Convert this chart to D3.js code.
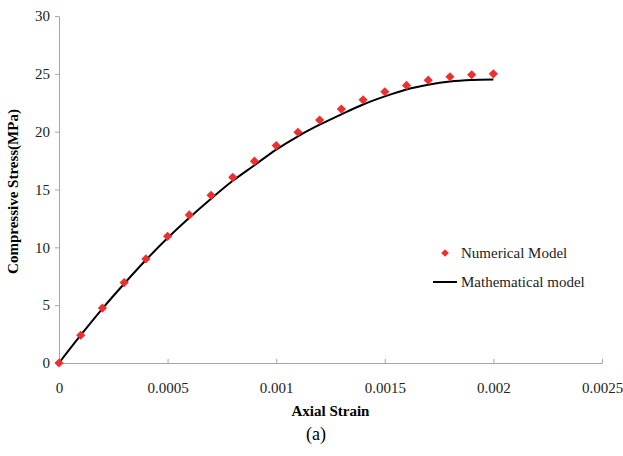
<!DOCTYPE html>
<html>
<head>
<meta charset="utf-8">
<script src="https://cdn.jsdelivr.net/npm/d3@7"></script>
<style>
  body { margin: 0; background: #fff; }
  svg { display: block; font-family: "Liberation Serif", "Times New Roman", serif; }
  .axis path, .axis line { stroke: #a6a6a6; }
  .axis text { font-size: 15px; fill: #222; font-family: "Liberation Serif", serif; }
</style>
</head>
<body>
<svg id="chart" width="623" height="456"></svg>
<script>
const strain = [0, 0.0001, 0.0002, 0.0003, 0.0004, 0.0005, 0.0006, 0.0007, 0.0008, 0.0009, 0.001,
  0.0011, 0.0012, 0.0013, 0.0014, 0.0015, 0.0016, 0.0017, 0.0018, 0.0019, 0.002];
const numerical = [0, 2.4, 4.75, 6.95, 9.0, 10.95, 12.8, 14.5, 16.05, 17.45, 18.8,
  19.95, 21.0, 21.95, 22.75, 23.45, 24.0, 24.45, 24.75, 24.92, 25.0];
const mathematical = [0, 2.4, 4.7, 6.85, 8.9, 10.8, 12.55, 14.2, 15.75, 17.1, 18.45,
  19.6, 20.6, 21.5, 22.35, 23.05, 23.65, 24.05, 24.33, 24.46, 24.5];
const xTicks = [0, 0.0005, 0.001, 0.0015, 0.002, 0.0025];
const yTicks = [0, 5, 10, 15, 20, 25, 30];

const svg = d3.select('#chart'),
  margin = { top: 16, right: 21, bottom: 93, left: 59 };
const inner = {
  width: 623 - margin.left - margin.right,
  height: 456 - margin.top - margin.bottom
};

const g = svg.append('g')
  .attr('transform', `translate(${margin.left},${margin.top})`);

const x = d3.scaleLinear().domain([0, 0.0025]).range([0, inner.width]),
  y = d3.scaleLinear().domain([0, 30]).range([inner.height, 0]);

g.append('g')
  .attr('class', 'axis axis--x')
  .attr('transform', `translate(0,${inner.height})`)
  .call(d3.axisBottom(x).tickValues(xTicks).tickFormat(d => d === 0 ? '0' : String(+d.toFixed(4)))
    .tickSizeInner(-4).tickSizeOuter(0).tickPadding(19));

g.append('g')
  .attr('class', 'axis axis--y')
  .call(d3.axisLeft(y).tickValues(yTicks).tickSizeInner(4).tickSizeOuter(0).tickPadding(5));

const pts = strain.map((s, i) => ({ s, num: numerical[i], mat: mathematical[i] }));

const line = d3.line()
  .curve(d3.curveMonotoneX)
  .x(d => x(d.s))
  .y(d => y(d.mat));

g.append('path')
  .datum(pts)
  .attr('d', line)
  .attr('fill', 'none')
  .attr('stroke', '#000')
  .attr('stroke-width', 2);

const diamond = d3.symbol().type(d3.symbolSquare).size(42);

g.selectAll('.pt')
  .data(pts)
  .enter().append('path')
  .attr('class', 'pt')
  .attr('d', diamond)
  .attr('transform', d => `translate(${x(d.s)},${y(d.num)}) rotate(45)`)
  .attr('fill', '#ee2f2f');

// legend
const lg = svg.append('g');
lg.append('path')
  .attr('d', d3.symbol().type(d3.symbolSquare).size(30))
  .attr('transform', 'translate(445,253) rotate(45)')
  .attr('fill', '#ee2f2f');
lg.append('text')
  .attr('x', 461).attr('y', 253).attr('dy', '0.35em')
  .style('font-size', '15px').attr('fill', '#222')
  .text('Numerical Model');
lg.append('line')
  .attr('x1', 433).attr('x2', 457).attr('y1', 282).attr('y2', 282)
  .attr('stroke', '#000').attr('stroke-width', 2);
lg.append('text')
  .attr('x', 461).attr('y', 282).attr('dy', '0.35em')
  .style('font-size', '15px').attr('fill', '#222')
  .text('Mathematical model');

// titles
svg.append('text')
  .attr('x', margin.left + inner.width / 2).attr('y', 416)
  .attr('text-anchor', 'middle')
  .style('font-size', '15px').style('font-weight', 'bold')
  .text('Axial Strain');

svg.append('text')
  .attr('transform', `translate(18,${margin.top + inner.height / 2 + 2}) rotate(-90)`)
  .attr('text-anchor', 'middle')
  .style('font-size', '15px').style('font-weight', 'bold')
  .text('Compressive Stress(MPa)');

svg.append('text')
  .attr('x', 316).attr('y', 440)
  .attr('text-anchor', 'middle')
  .style('font-size', '18px')
  .text('(a)');
</script>
</body>
</html>
